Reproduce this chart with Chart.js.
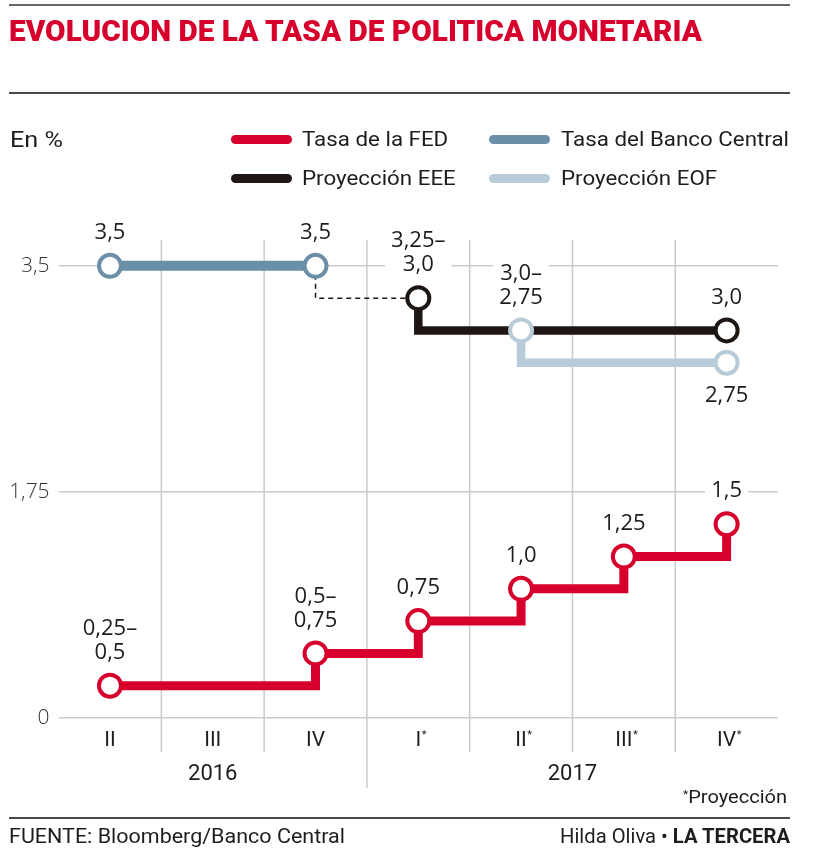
<!DOCTYPE html>
<html>
<head>
<meta charset="utf-8">
<script src="https://cdn.jsdelivr.net/npm/chart.js@4.4.1/dist/chart.umd.min.js"></script>
<style>
html,body{margin:0;padding:0;background:#fff;}
#wrap{position:relative;width:820px;height:853px;overflow:hidden;font-family:Roboto,"Noto Sans",sans-serif;color:#1d1d1b;}
#c{position:absolute;left:0;top:0;}
.abs{position:absolute;white-space:nowrap;line-height:1;transform-origin:0 0;}
.rule{position:absolute;left:9px;width:781px;height:2px;background:#4a4a4a;}
.sw{position:absolute;height:9px;border-radius:5px;}
</style>
</head>
<body>
<div id="wrap">
<canvas id="c" width="820" height="853"></canvas>
<div class="rule" style="top:4px;background:#666"></div>
<div class="abs fit" data-x="9" data-w="693" style="top:17px;font-size:29.5px;font-weight:900;color:#d7002c;">EVOLUCION DE LA TASA DE POLITICA MONETARIA</div>
<div class="rule" style="top:92px"></div>
<div class="abs fit" data-x="10" data-w="53" style="top:129px;font-size:22px;font-weight:400;">En %</div>
<div id="legend"></div>
<div class="abs fit" data-x="683" data-w="104" style="top:788px;font-size:18.3px;font-weight:400;"><span style="font-size:11px;vertical-align:5px">*</span>Proyección</div>
<div class="rule" style="top:817px"></div>
<div class="abs fit" data-x="9" data-w="336" style="top:826px;font-size:21px;font-weight:400;">FUENTE: Bloomberg/Banco Central</div>
<div class="abs fit" data-x="560" data-w="230" style="top:826px;font-size:21px;font-weight:400;">Hilda Oliva • <b style="font-weight:700">LA TERCERA</b></div>
</div>
<script>
// ---- data ----
const categories = ['II', 'III', 'IV', 'I*', 'II*', 'III*', 'IV*'];
const years = ['2016', '2017'];
const yearFirstCategory = [0, 3];
const yearLastCategory = [2, 6];
const yTicks = [0, 1.75, 3.5];
const yTickLabels = ['0', '1,75', '3,5'];

const fedRate   = [0.25, null, 0.5, 0.75, 1.0, 1.25, 1.5];
const fedLabels = ['0,25–\n0,5', '', '0,5–\n0,75', '0,75', '1,0', '1,25', '1,5'];

const bancoCentralRate   = [3.5, null, 3.5, null, null, null, null];
const bancoCentralLabels = ['3,5', '', '3,5', '', '', '', ''];

const proyeccionEEE       = [null, null, null, 3.25, null, null, 3.0];
const proyeccionEEELabels = ['', '', '', '3,25–\n3,0', '', '', '3,0'];

const proyeccionEOF       = [null, null, null, null, 3.0, null, 2.75];
const proyeccionEOFLabels = ['', '', '', '', '3,0–\n2,75', '', '2,75'];

const connector = [null, null, 3.5, 3.25, null, null, null];

// ---- styles ----
const RED = '#d7002c', BLUE = '#6b8fa8', BLACK = '#1d1613', LIGHT = '#b8cbd9', GRID = '#cbcbcb';
const TICK_FONT = { family: 'Roboto', size: 21, weight: '400' };

function lineSet(label, data, labels, color, width, stepped) {
  return {
    label, data, dataLabels: labels,
    borderColor: color, borderWidth: width, stepped, spanGaps: true,
    pointRadius: 11, pointBorderWidth: 4, pointBackgroundColor: '#fff', pointBorderColor: color,
    pointHoverRadius: 11, fill: false, borderJoinStyle: 'miter'
  };
}

const dsFED = lineSet('Tasa de la FED', fedRate, fedLabels, RED, 9, 'before');
const dsEOF = lineSet('Proyección EOF', proyeccionEOF, proyeccionEOFLabels, LIGHT, 8.5, 'after');
dsEOF.labelBelow = [6];
const dsEEE = lineSet('Proyección EEE', proyeccionEEE, proyeccionEEELabels, BLACK, 8.5, 'after');
const dsBC  = lineSet('Tasa del Banco Central', bancoCentralRate, bancoCentralLabels, BLUE, 10, false);
const dsLink = {
  label: '', data: connector, borderColor: BLACK, borderWidth: 1.5, borderDash: [5, 4],
  stepped: 'after', spanGaps: true, pointRadius: 0, fill: false
};

const legendItems = [dsFED, dsBC, dsEEE, dsEOF];

// ---- plugins ----
const quarterGrid = {
  id: 'quarterGrid',
  beforeDatasetsDraw(chart) {
    const x = chart.scales.x, a = chart.chartArea, ctx = chart.ctx;
    ctx.save();
    ctx.strokeStyle = GRID; ctx.lineWidth = 1.5;
    for (let i = 1; i < categories.length; i++) {
      const px = (x.getPixelForValue(i - 1) + x.getPixelForValue(i)) / 2;
      const yearBreak = yearFirstCategory.includes(i);
      ctx.beginPath();
      ctx.moveTo(px, a.top);
      ctx.lineTo(px, a.bottom + (yearBreak ? 70 : 34));
      ctx.stroke();
    }
    ctx.restore();
  },
  afterDraw(chart) {
    const x = chart.scales.x, a = chart.chartArea, ctx = chart.ctx;
    const step = x.getPixelForValue(1) - x.getPixelForValue(0);
    ctx.save();
    ctx.font = `${TICK_FONT.weight} ${TICK_FONT.size}px ${TICK_FONT.family}`;
    const widths = categories.map(c => ctx.measureText(c.replace('*', '')).width);
    ctx.font = '400 11px Roboto';
    ctx.fillStyle = '#1d1d1b';
    ctx.textAlign = 'left'; ctx.textBaseline = 'middle';
    categories.forEach((c, i) => {
      if (c.includes('*')) ctx.fillText('*', x.getPixelForValue(i) + widths[i] / 2 + 0.5, a.bottom + 17);
    });
    ctx.font = '400 22px Roboto';
    ctx.textAlign = 'center';
    years.forEach((yr, k) => {
      const l = x.getPixelForValue(yearFirstCategory[k]) - step / 2;
      const r = x.getPixelForValue(yearLastCategory[k]) + step / 2;
      ctx.fillText(yr, (l + r) / 2, a.bottom + 56);
    });
    ctx.restore();
  }
};

const valueLabels = {
  id: 'valueLabels',
  afterDatasetsDraw(chart) {
    const ctx = chart.ctx;
    ctx.save();
    ctx.font = '400 22px "Open Sans"';
    ctx.textAlign = 'center'; ctx.textBaseline = 'middle';
    chart.data.datasets.forEach((ds, di) => {
      if (!ds.dataLabels) return;
      const meta = chart.getDatasetMeta(di);
      ds.dataLabels.forEach((txt, i) => {
        if (!txt || ds.data[i] == null) return;
        const pt = meta.data[i];
        const lines = txt.split('\n');
        const lh = 24;
        const below = ds.labelBelow && ds.labelBelow.includes(i);
        let firstY;
        if (below) firstY = pt.y + 33;
        else firstY = pt.y - 33 - (lines.length - 1) * lh;
        const w = Math.max(...lines.map(s => ctx.measureText(s).width));
        ctx.fillStyle = '#fff';
        ctx.fillRect(pt.x - w / 2 - 6, firstY - 18, w + 12, (lines.length - 1) * lh + 30);
        ctx.fillStyle = '#1d1d1b';
        lines.forEach((s, k) => ctx.fillText(s, pt.x, firstY + k * lh));
      });
    });
    ctx.restore();
  }
};

Chart.defaults.font.family = 'Roboto';

new Chart(document.getElementById('c'), {
  type: 'line',
  data: { labels: categories, datasets: [dsFED, dsEOF, dsEEE, dsBC, dsLink] },
  options: {
    responsive: false, animation: false, events: [],
    layout: { padding: { top: 240, right: 42, left: 0, bottom: 0 } },
    plugins: { legend: { display: false }, tooltip: { enabled: false } },
    scales: {
      x: {
        type: 'category', offset: true,
        grid: { display: false, drawTicks: false }, border: { display: false },
        ticks: { padding: 10, autoSkip: false, maxRotation: 0, color: '#1d1d1b', font: TICK_FONT,
                 callback: (v, i) => categories[i].replace('*', '') },
        afterFit(s) { s.height = 135; s.paddingLeft = 0; s.paddingRight = 0; s.paddingTop = 0; s.paddingBottom = 0; }
      },
      y: {
        min: 0, max: 3.7,
        afterBuildTicks(s) { s.ticks = yTicks.map(v => ({ value: v })); },
        ticks: { padding: 9, color: '#333', font: { family: '"Open Sans"', size: 21, weight: '300' },
                 callback: (v) => yTickLabels[yTicks.indexOf(v)] },
        grid: { color: GRID, lineWidth: 1.5, drawTicks: false }, border: { display: false },
        afterFit(s) { s.width = 58.6; s.paddingTop = 0; s.paddingBottom = 0; s.paddingLeft = 0; s.paddingRight = 0; }
      }
    }
  },
  plugins: [quarterGrid, valueLabels]
});

// ---- legend (HTML) ----
const legend = document.getElementById('legend');
const swX = [231, 489], txX = [302, 561], rowY = [139.5, 178];
const legendTexts = [];
legendItems.forEach((ds, i) => {
  const col = i % 2, row = Math.floor(i / 2);
  const sw = document.createElement('div');
  sw.className = 'sw';
  sw.style.cssText = `left:${swX[col]}px;top:${rowY[row] - 4.5}px;width:61px;background:${ds.borderColor};`;
  legend.appendChild(sw);
  const t = document.createElement('div');
  t.className = 'abs';
  t.textContent = ds.label;
  t.style.cssText = `left:${txX[col]}px;top:${rowY[row] - 10.2}px;font-size:21px;`;
  legend.appendChild(t);
  legendTexts.push(t);
});

function layoutText() {
  document.querySelectorAll('.fit').forEach(el => {
    el.style.transform = 'none';
    el.style.left = el.dataset.x + 'px';
    const nat = el.getBoundingClientRect().width;
    el.style.transform = `scaleX(${(+el.dataset.w) / nat})`;
  });
  const ref = legendTexts[1];
  ref.style.transform = 'none';
  const s = 228 / ref.getBoundingClientRect().width;
  legendTexts.forEach(t => t.style.transform = `scaleX(${s})`);
}
layoutText();
if (document.fonts && document.fonts.ready) document.fonts.ready.then(layoutText);
</script>
</body>
</html>
